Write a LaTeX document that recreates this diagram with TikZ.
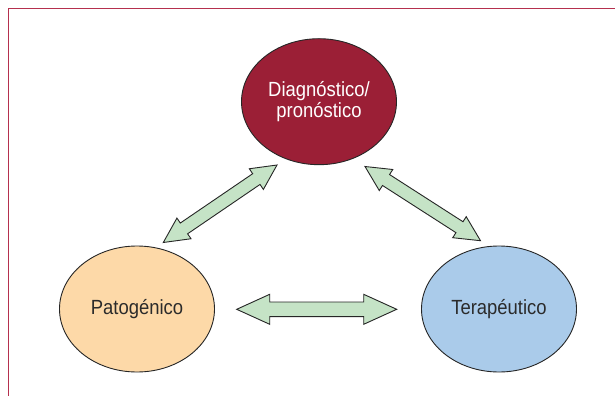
\documentclass[tikz,border=0pt]{standalone}
\usepackage{fontspec}
\setmainfont{Liberation Sans}[FakeStretch=0.9]
\usetikzlibrary{shapes.geometric,calc}
\definecolor{framered}{HTML}{B5304E}
\definecolor{diagred}{HTML}{9B1F36}
\definecolor{patorange}{HTML}{FDD9A8}
\definecolor{terblue}{HTML}{AACBEA}
\definecolor{arrowgreen}{HTML}{C5E3C6}
\definecolor{textdark}{HTML}{2B2B2B}
\tikzset{
  bubble/.style={ellipse, draw=black!85, line width=0.9pt, minimum width=155pt, minimum height=126pt, inner sep=0pt, align=center, font=\fontsize{20.5}{21}\selectfont},
  blockarrowstyle/.style={draw=black!85, fill=arrowgreen, line width=0.9pt, line join=miter},
  framestyle/.style={draw=framered, line width=1.3pt}
}
% #1 tail, #2 tip, #3 half shaft width, #4 half head width, #5 head length
\newcommand\blockarrow[5]{%
  \draw[blockarrowstyle] (#1)
    -- ($(#1)!#5!(#2)!#4!90:(#2)$)
    -- ($(#1)!#5!(#2)!#3!90:(#2)$)
    -- ($(#2)!#5!(#1)!#3!-90:(#1)$)
    -- ($(#2)!#5!(#1)!#4!-90:(#1)$)
    -- (#2)
    -- ($(#2)!#5!(#1)!#4!90:(#1)$)
    -- ($(#2)!#5!(#1)!#3!90:(#1)$)
    -- ($(#1)!#5!(#2)!#3!-90:(#2)$)
    -- ($(#1)!#5!(#2)!#4!-90:(#2)$)
    -- cycle;}
\begin{document}
\begin{tikzpicture}[x=1pt,y=-1pt]
\useasboundingbox (0,0) rectangle (615,396);
\fill[white] (0,0) rectangle (615,396);
\coordinate (frTR) at (615,8.5);
\coordinate (frTL) at (8.5,8.5);
\coordinate (frBL) at (8.5,396);
\draw[framestyle] (frTR) -- (frTL) -- (frBL);

\node[bubble, fill=diagred, text=white] (diag) at (319,101.7) {Diagnóstico/\\pronóstico};
\node[bubble, fill=patorange, text=textdark] (pat) at (137,309) {Patogénico};
\node[bubble, fill=terblue, text=textdark] (ter) at (499,309) {Terapéutico};

\coordinate (a1) at (163.3,242.5);
\coordinate (a2) at (277,165);
\coordinate (b1) at (365,166.5);
\coordinate (b2) at (480.5,240.7);
\coordinate (c1) at (236.7,309.3);
\coordinate (c2) at (396.7,309.3);

\blockarrow{a1}{a2}{6.5pt}{12.5pt}{25pt}
\blockarrow{b1}{b2}{6.5pt}{12.5pt}{25pt}
\blockarrow{c1}{c2}{7.3pt}{15pt}{33pt}
\end{tikzpicture}
\end{document}
